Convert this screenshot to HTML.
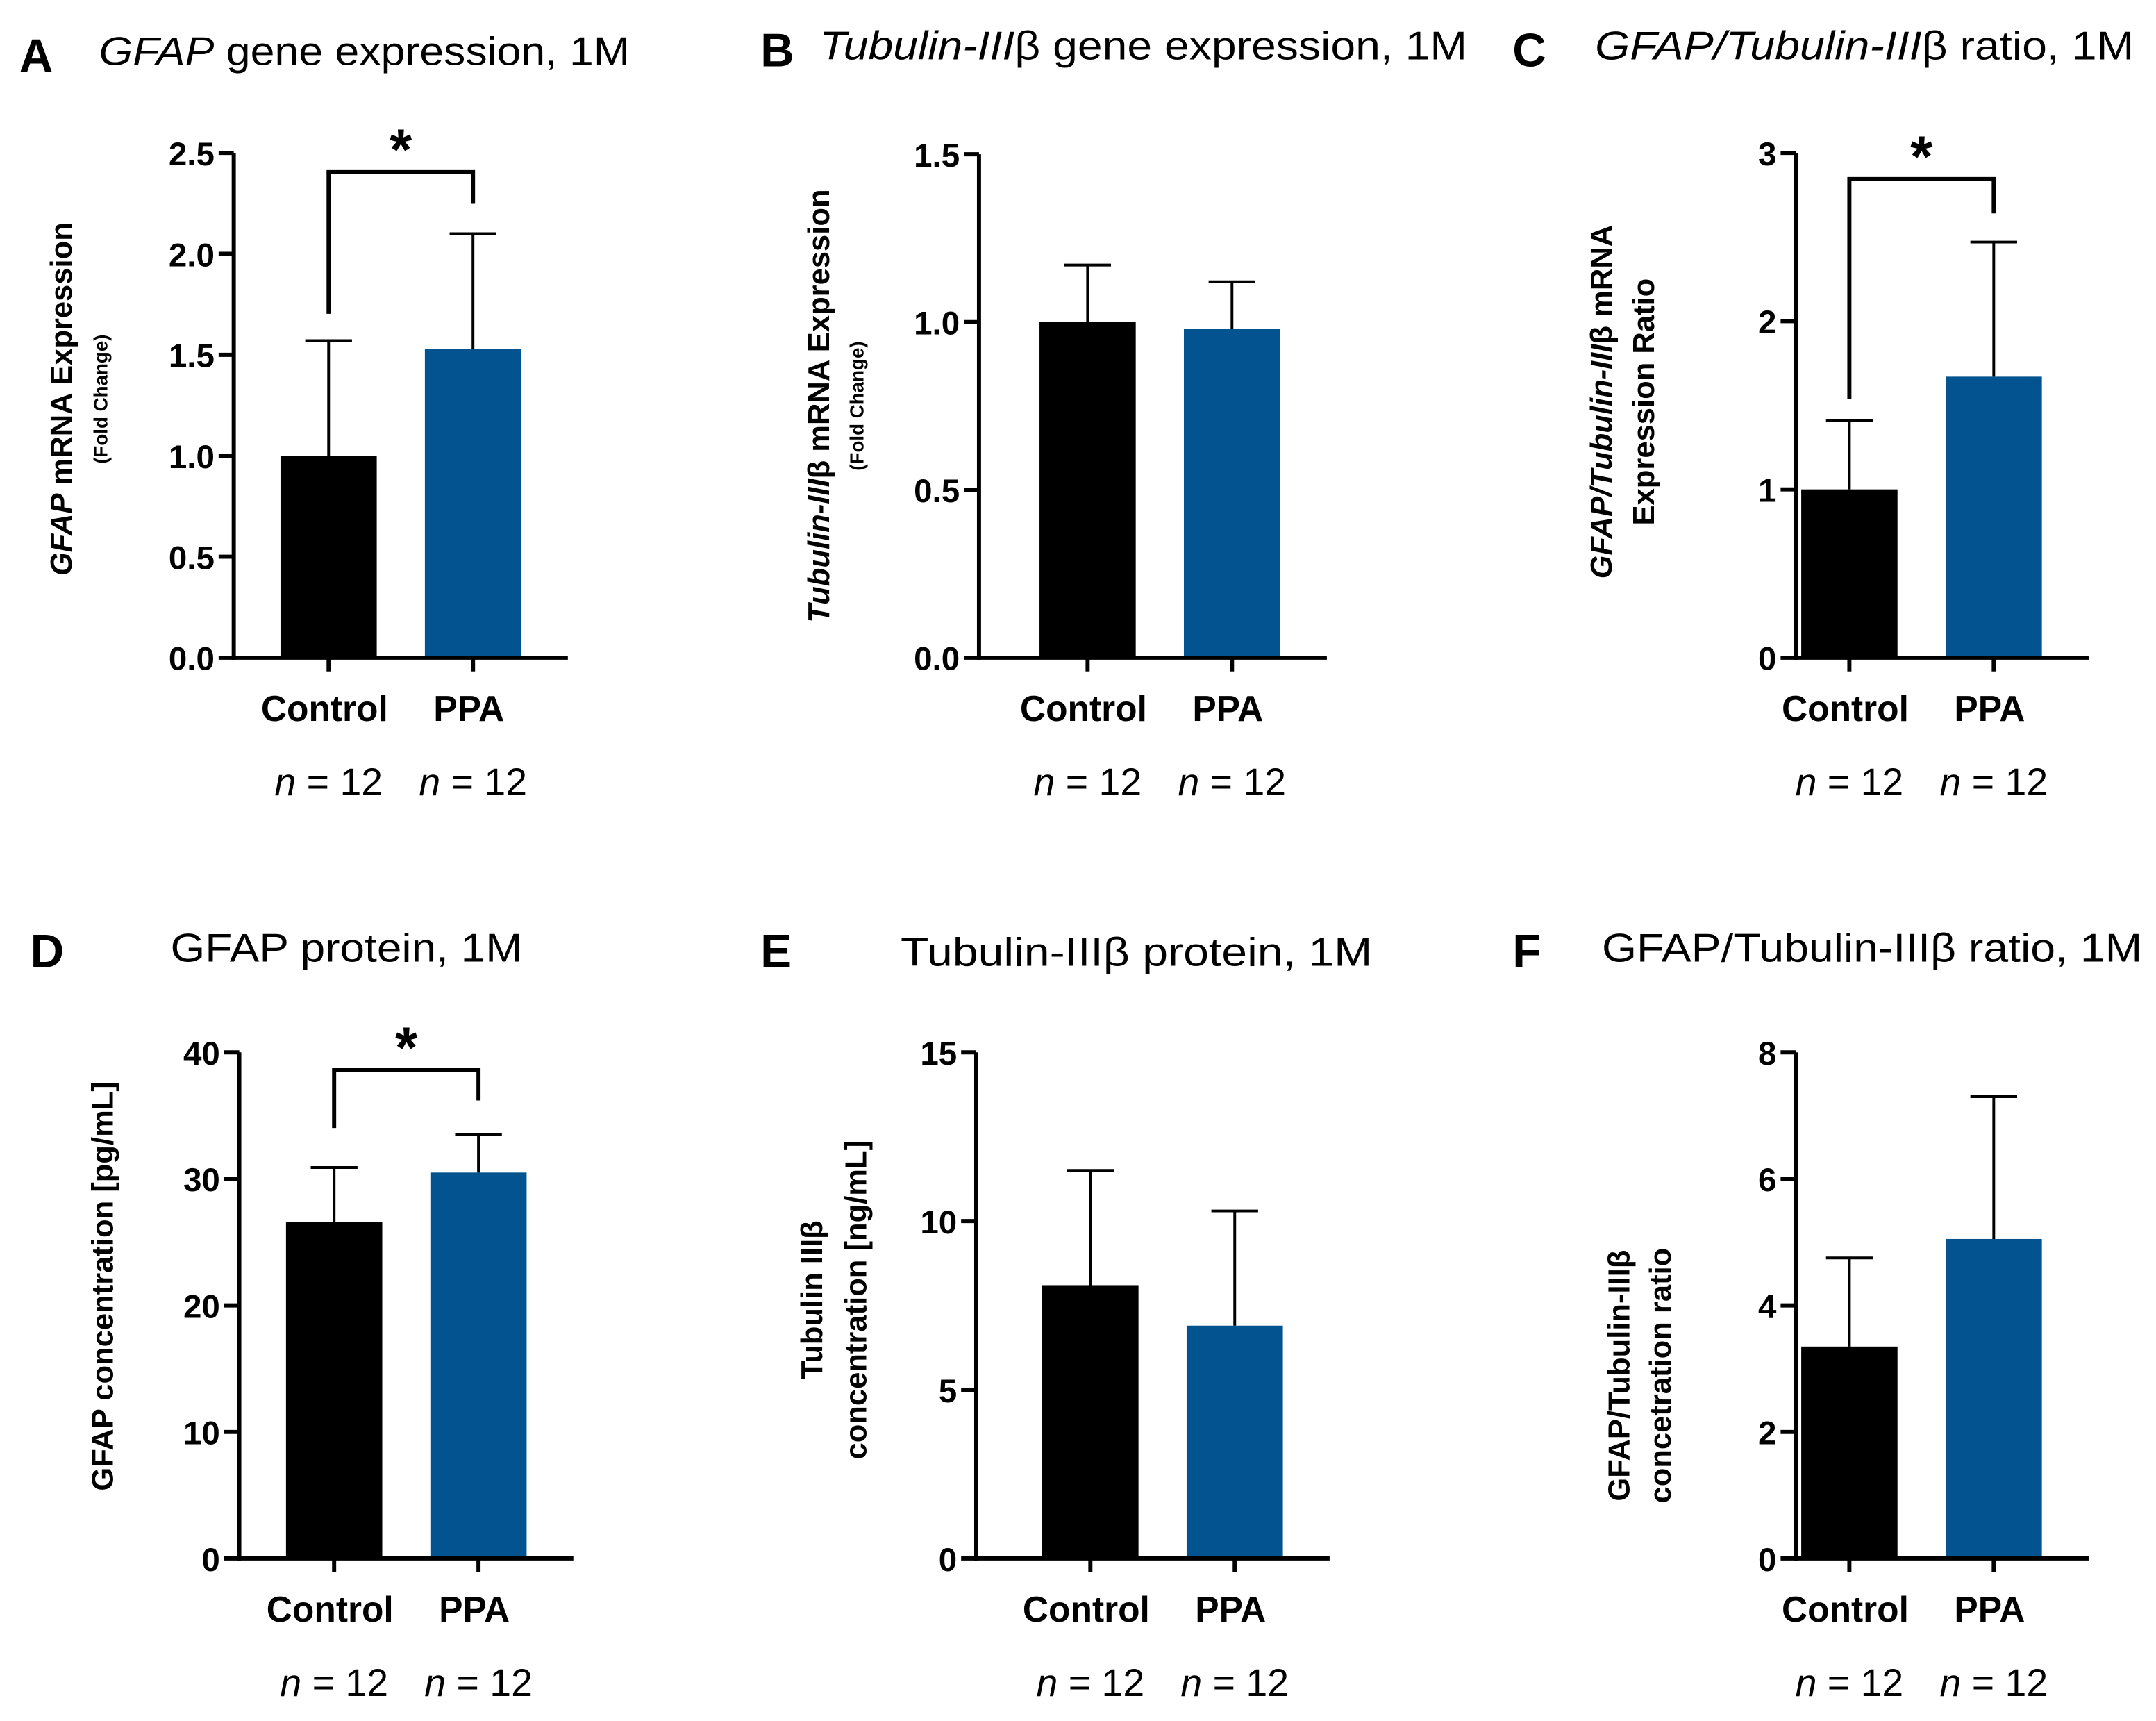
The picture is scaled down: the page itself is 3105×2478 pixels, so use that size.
<!DOCTYPE html>
<html><head><meta charset="utf-8"><style>
html,body{margin:0;padding:0;background:#fff}
svg{display:block}
text{font-family:"Liberation Sans",Arial,sans-serif}
</style></head><body>
<svg id="fig" width="3105" height="2478" viewBox="0 0 1568 1251" xmlns="http://www.w3.org/2000/svg">
<g font-weight="bold" font-size="34">
<text x="14" y="52">A</text>
<text x="553" y="48">B</text>
<text x="1100" y="48">C</text>
<text x="22" y="703">D</text>
<text x="553" y="703">E</text>
<text x="1100" y="703">F</text>
</g>
<g font-size="29">
<text x="72" y="47" textLength="386" lengthAdjust="spacingAndGlyphs"><tspan font-style="italic">GFAP</tspan> gene expression, 1M</text>
<text x="596" y="43" textLength="471" lengthAdjust="spacingAndGlyphs"><tspan font-style="italic">Tubulin-III</tspan>β gene expression, 1M</text>
<text x="1160" y="43" textLength="392" lengthAdjust="spacingAndGlyphs"><tspan font-style="italic">GFAP/Tubulin-III</tspan>β ratio, 1M</text>
<text x="124" y="699" textLength="256" lengthAdjust="spacingAndGlyphs">GFAP protein, 1M</text>
<text x="655" y="702" textLength="343" lengthAdjust="spacingAndGlyphs">Tubulin-IIIβ protein, 1M</text>
<text x="1165" y="699" textLength="393" lengthAdjust="spacingAndGlyphs">GFAP/Tubulin-IIIβ ratio, 1M</text>
</g>
<g id="charts"></g>
</svg>
<script>
const categories = ["Control", "PPA"];
const nLabels = ["12", "12"];
const ctrlMeans = [1.0, 1.0, 1.0, 26.6, 8.1, 3.35];
const ppaMeans = [1.53, 0.98, 1.67, 30.5, 6.9, 5.05];
const ctrlErr = [1.57, 1.17, 1.41, 30.9, 11.5, 4.75];
const ppaErr = [2.10, 1.12, 2.47, 33.5, 10.3, 7.3];
const yMaxes = [2.5, 1.5, 3, 40, 15, 8];
const tickLabels = [
  ["0.0","0.5","1.0","1.5","2.0","2.5"],
  ["0.0","0.5","1.0","1.5"],
  ["0","1","2","3"],
  ["0","10","20","30","40"],
  ["0","5","10","15"],
  ["0","2","4","6","8"]
];
const significant = [true, false, true, true, false, false];

const layout = [
  {ax:170, x0:204, top:111, bot:478, end:413, bL:228, bR:148, bY:125, lx:[52,78], ly:290},
  {ax:712, x0:756, top:112, bot:478, end:965, lx:[603,628], ly:295},
  {ax:1306, x0:1310, top:111, bot:478, end:1519, bL:290, bR:155, bY:130, lx:[1172,1203], ly:292},
  {ax:174, x0:208, top:765, bot:1133, end:417, bL:820, bR:800, bY:778, lx:[82], ly:935},
  {ax:710, x0:758, top:765, bot:1133, end:967, lx:[598,630], ly:945},
  {ax:1306, x0:1310, top:765, bot:1133, end:1519, lx:[1185,1215], ly:1000}
];
const ylabels = [
  ['<tspan font-style="italic">GFAP</tspan> mRNA Expression','(Fold Change)'],
  ['<tspan font-style="italic">Tubulin-III</tspan>β mRNA Expression','(Fold Change)'],
  ['<tspan font-style="italic">GFAP/Tubulin-III</tspan>β  mRNA','Expression Ratio'],
  ['GFAP concentration [pg/mL]'],
  ['Tubulin IIIβ','concentration [ng/mL]'],
  ['GFAP/Tubulin-IIIβ','concetration ratio']
];
const NS="http://www.w3.org/2000/svg";
const root=document.getElementById('charts');
function mk(tag,attrs,parent){const e=document.createElementNS(NS,tag);for(const k in attrs)e.setAttribute(k,attrs[k]);(parent||root).appendChild(e);return e;}
const colors=["#000000","#02538f"];
layout.forEach((L,i)=>{
  const g=mk('g',{});
  
  
  const y=v=>L.bot-(v/yMaxes[i])*(L.bot-L.top);
  const means=[ctrlMeans[i],ppaMeans[i]], errs=[ctrlErr[i],ppaErr[i]];
  const bw=70, gap=105;
  const cx=[L.x0+bw/2, L.x0+gap+bw/2];
  means.forEach((m,j)=>{
    const ln=mk('line',{x1:cx[j],x2:cx[j],y1:y(m),y2:y(errs[j]),stroke:'#000','stroke-width':2},g);
    
    
    const cap=mk('line',{x1:cx[j]-17,x2:cx[j]+17,y1:y(errs[j]),y2:y(errs[j]),stroke:'#000','stroke-width':2},g);
    
    
    const r=mk('rect',{x:L.x0+j*gap,y:y(m),width:bw,height:L.bot-y(m),fill:colors[j]},g);
    
    
    const tk=mk('line',{x1:cx[j],x2:cx[j],y1:L.bot,y2:L.bot+10,stroke:'#000','stroke-width':3},g);
    
    
    const t=mk('text',{x:cx[j]-3,y:L.bot+46,'text-anchor':'middle','font-size':26,'font-weight':'bold'},g);
    t.textContent=categories[j];
    
    
    const n=mk('text',{x:cx[j],y:L.bot+100,'text-anchor':'middle','font-size':28},g);
    n.innerHTML='<tspan font-style="italic">n</tspan> = '+nLabels[j];
    
    
  });
  const ya=mk('line',{x1:L.ax,x2:L.ax,y1:L.top,y2:L.bot+1.5,stroke:'#000','stroke-width':3},g);
  
  
  const xa=mk('line',{x1:L.ax-1.5,x2:L.end,y1:L.bot,y2:L.bot,stroke:'#000','stroke-width':3},g);
  
  
  tickLabels[i].forEach((lab)=>{
    const v=parseFloat(lab), yy=y(v);
    const tk=mk('line',{x1:L.ax-11,x2:L.ax,y1:yy,y2:yy,stroke:'#000','stroke-width':3},g);
    
    
    const t=mk('text',{x:L.ax-14,y:yy+9,'text-anchor':'end','font-size':24,'font-weight':'bold'},g);
    t.textContent=lab;
    
    
  });
  ylabels[i].forEach((s,k)=>{
    const small = (i<2 && k===1);
    const xx = L.lx[k], yy=L.ly;
    const t=mk('text',{x:xx,y:yy,'text-anchor':'middle','font-size':small?14:22,'font-weight':'bold',transform:`rotate(-90 ${xx} ${yy})`},g);
    t.innerHTML=s;
    
    
  });
  if(significant[i]){
    const p=mk('path',{d:`M${cx[0]} ${L.bL} V${L.bY} H${cx[1]} V${L.bR}`,fill:'none',stroke:'#000','stroke-width':3},g);
    
    
    const s=mk('text',{x:(cx[0]+cx[1])/2,y:L.bY-2,'text-anchor':'middle','font-size':42,'font-weight':'bold'},g);
    s.textContent='*';
    
    
  }
});
</script>
</body></html>
